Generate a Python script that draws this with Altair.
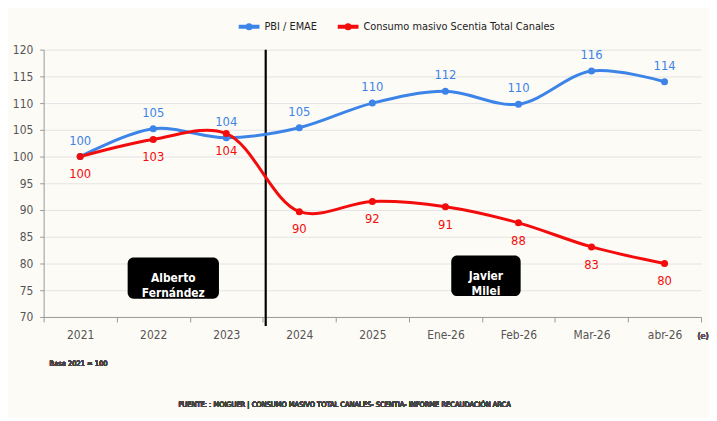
import altair as alt
import pandas as pd

# values (Base 2021 = 100)
periods = ["2021", "2022", "2023", "2024", "2025", "Ene-26", "Feb-26", "Mar-26", "abr-26"]
pbi = [100.0, 105.2, 103.5, 105.4, 110.0, 112.2, 109.8, 116.0, 114.0]
pbi_labels = ["100", "105", "104", "105", "110", "112", "110", "116", "114"]
consumo = [100.0, 103.2, 104.3, 89.7, 91.6, 90.6, 87.6, 83.1, 80.0]
consumo_labels = ["100", "103", "104", "90", "92", "91", "88", "83", "80"]

series_names = ["PBI / EMAE", "Consumo masivo Scentia Total Canales"]
series_colors = ["#3d84e8", "#f20c0c"]

# government annotation boxes (index units on the x axis)
gov_names = ["Alberto\nFernández", "Javier\nMilei"]
gov_x0 = [0.65, 5.08]
gov_x1 = [1.90, 6.03]
gov_y0 = [73.4, 73.9]
gov_y1 = [81.1, 81.5]
divider_x = 2.54

font = "Liberation Sans Narrow, DejaVu Sans Condensed, Arial Narrow, sans-serif"

rows = []
for name, vals, labs in [(series_names[0], pbi, pbi_labels), (series_names[1], consumo, consumo_labels)]:
    for p, v, l in zip(periods, vals, labs):
        rows.append({"period": p, "value": v, "label": l, "series": name})
df = pd.DataFrame(rows)

gov_df = pd.DataFrame({"name": gov_names, "x0": gov_x0, "x1": gov_x1, "y0": gov_y0, "y1": gov_y1})
gov_df["xc"] = (gov_df["x0"] + gov_df["x1"]) / 2
gov_df["yc"] = (gov_df["y0"] + gov_df["y1"]) / 2
div_df = pd.DataFrame({"x": [divider_x], "top": [120], "bottom": [68.3]})

# shared axis / scale settings
y_scale = alt.Scale(domain=[70, 120], nice=False, zero=False)
y_axis = alt.Axis(values=list(range(70, 121, 5)), domainColor="#999999", tickColor="#999999",
                  tickSize=4, labelPadding=7, labelColor="#555555", labelFont=font,
                  labelFontSize=12, gridColor="#e4e4e4", title=None)
x_band = alt.X(
    "period:N", sort=periods, title=None,
    scale=alt.Scale(paddingInner=0, paddingOuter=0),
    axis=alt.Axis(labelAngle=0, tickBand="extent", domainColor="#999999", tickColor="#999999",
                  tickSize=5, labelPadding=8, labelColor="#555555", labelFont=font,
                  labelFontSize=12, grid=False),
)
legend_symbol = ("M-1,0H1"
                 "M0.15,0A0.15,0.15 0 1,1 -0.15,0A0.15,0.15 0 1,1 0.15,0")
legend = alt.Legend(orient="none", legendX=195, legendY=-36, direction="horizontal",
                    title=None, symbolType=legend_symbol, symbolSize=440,
                    symbolStrokeWidth=4, labelFont=font, labelFontSize=11,
                    labelColor="#222222", columnPadding=12, labelOffset=3, labelLimit=400)
color_enc = alt.Color("series:N", scale=alt.Scale(domain=series_names, range=series_colors),
                      sort=series_names, legend=legend)

base = alt.Chart(df).encode(x=x_band, y=alt.Y("value:Q", scale=y_scale, axis=y_axis), color=color_enc)

lines = base.mark_line(interpolate="catmull-rom", strokeWidth=3)
points = base.mark_circle(size=50, opacity=1)
labels_top = base.transform_filter(alt.datum.series == series_names[0]).mark_text(
    dy=-16, fontSize=13, font=font
).encode(text="label:N")
labels_bottom = base.transform_filter(alt.datum.series == series_names[1]).mark_text(
    dy=18, fontSize=13, font=font
).encode(text="label:N")

base_note = alt.Chart(df).mark_text(text="Base 2021 = 100", align="left", fontSize=7.5, font=font,
                                    color="#444444").encode(x=alt.value(6), y=alt.value(318))
est_note = alt.Chart(df).mark_text(text="(e)", align="center", fontSize=9, font=font,
                                   color="#555555").encode(x=alt.value(666), y=alt.value(289))
source_note = alt.Chart(df).mark_text(
    text="FUENTE: :  MOIGUER | CONSUMO MASIVO TOTAL CANALES- SCENTIA- INFORME RECAUDACIÓN ARCA",
    align="center", fontSize=7.5, font=font, color="#444444",
).encode(x=alt.value(304), y=alt.value(359))

# annotations on an index scale laid over the band axis
x_idx = alt.Scale(domain=[-0.5, 8.5], nice=False, zero=False)
divider = alt.Chart(div_df).mark_rule(color="black", strokeWidth=2.2).encode(
    x=alt.X("x:Q", scale=x_idx, axis=None),
    y=alt.Y("top:Q", scale=y_scale, axis=y_axis), y2="bottom:Q",
)
boxes = alt.Chart(gov_df).mark_rect(color="black", cornerRadius=6).encode(
    x=alt.X("x0:Q", scale=x_idx, axis=None), x2="x1:Q",
    y=alt.Y("y0:Q", scale=y_scale, axis=y_axis), y2="y1:Q",
)
box_text = alt.Chart(gov_df).mark_text(color="white", fontWeight="bold", fontSize=12, font=font,
                                       lineBreak="\n", lineHeight=15).encode(
    x=alt.X("xc:Q", scale=x_idx, axis=None),
    y=alt.Y("yc:Q", scale=y_scale, axis=y_axis), text="name:N",
)

annotations = alt.layer(divider, boxes, box_text)
series = alt.layer(lines, points, labels_top, labels_bottom, base_note, est_note, source_note)

chart = alt.layer(annotations, series).resolve_scale(x="independent").properties(
    width=664, height=270,
    padding={"left": 36, "top": 40, "right": 8, "bottom": 100},
    autosize=alt.AutoSizeParams(type="none"),
    background="#fdfbf6",
).configure_view(stroke=None)

chart.save("out.html", embed_options={"renderer": "svg", "actions": False})
